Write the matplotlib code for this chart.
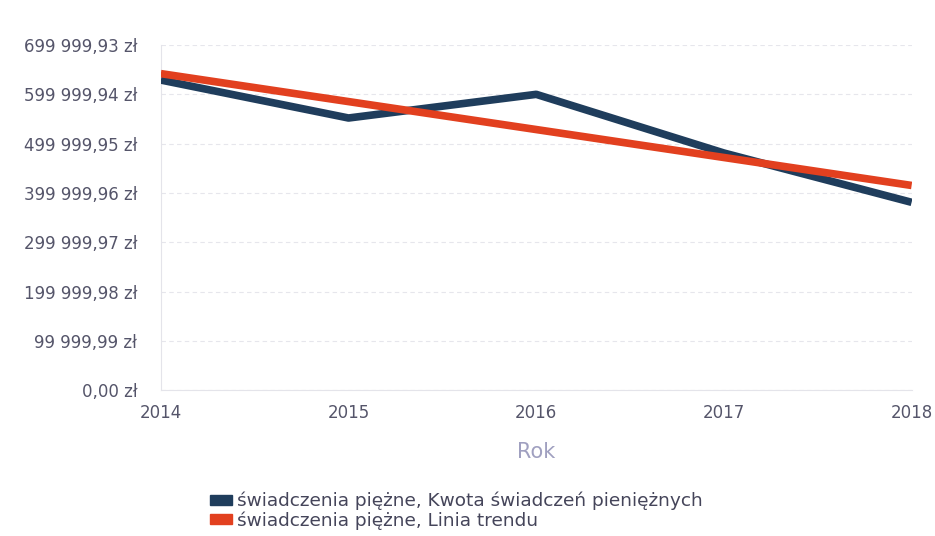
import numpy as np
import matplotlib.pyplot as plt
import matplotlib.patches as mpatches
from matplotlib.ticker import FuncFormatter

plt.rcParams['font.family'] = ['DejaVu Sans']

years = [2014, 2015, 2016, 2017, 2018]
kwota = [629000, 552000, 600000, 481000, 381000]
trend = [642000, 585300, 528600, 471900, 415200]
y_ticks = [0.00, 99999.99, 199999.98, 299999.97, 399999.96, 499999.95, 599999.94, 699999.93]

blue = '#1f3d5c'
red = '#e2401f'


def zl(v, pos=None):
    s = f"{v:,.2f}".replace(",", " ").replace(".", ",")
    return s + " zł"


fig = plt.figure(figsize=(9.35, 5.36), dpi=100)
ax = fig.add_axes([0.172, 0.272, 0.803, 0.644])

ax.plot(years, kwota, color=blue, lw=5.5, solid_capstyle='butt', zorder=3)
ax.plot(years, trend, color=red, lw=5.5, solid_capstyle='butt', zorder=4)

ax.set_xlim(2014, 2018)
ax.set_ylim(0, 699999.93)
ax.set_xticks(years)
ax.set_yticks(y_ticks)
ax.yaxis.set_major_formatter(FuncFormatter(zl))
ax.grid(axis='y', color='#e6e6ec', lw=0.8, ls=(0, (4, 3)))
ax.set_axisbelow(True)

for s in ['top', 'right']:
    ax.spines[s].set_visible(False)
ax.spines['left'].set_color('#e4e4ea')
ax.spines['bottom'].set_color('#e4e4ea')
ax.tick_params(length=0, labelsize=12, labelcolor='#55556a')
ax.tick_params(axis='y', pad=17)
ax.tick_params(axis='x', pad=10)

ax.set_xlabel('Rok', fontsize=15, color='#a0a0c0', labelpad=14)

handles = [mpatches.Patch(color=blue, label='świadczenia piężne, Kwota świadczeń pieniężnych'),
           mpatches.Patch(color=red, label='świadczenia piężne, Linia trendu')]
fig.legend(handles=handles, loc='upper left', bbox_to_anchor=(0.217, 0.096),
           frameon=False, fontsize=13.3, handlelength=1.15, handleheight=0.45,
           handletextpad=0.3, labelspacing=0.05, labelcolor='#45455a',
           borderaxespad=0)

fig.savefig('out.png', dpi=100, facecolor='white')
